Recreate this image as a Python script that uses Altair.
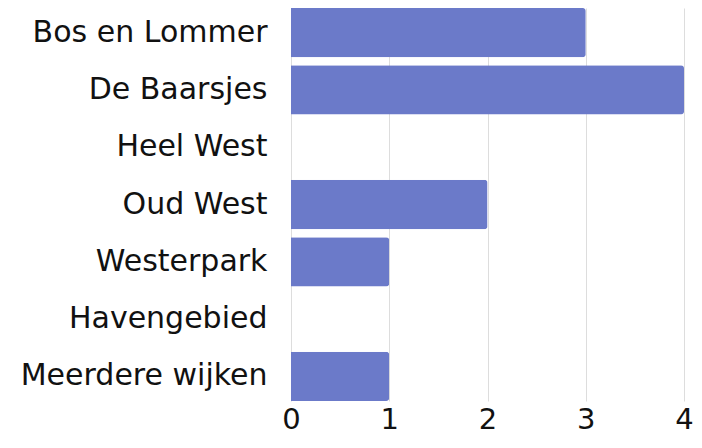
import altair as alt
import pandas as pd

categories = ["Bos en Lommer", "De Baarsjes", "Heel West", "Oud West", "Westerpark", "Havengebied", "Meerdere wijken"]
values = [3, 4, 0, 2, 1, 0, 1]

df = pd.DataFrame({"wijk": categories, "aantal": values})

FONT = "DejaVu Sans"

chart = alt.Chart(df).mark_bar(color="#6B7AC9", cornerRadiusTopRight=3, cornerRadiusBottomRight=3).encode(
    x=alt.X("aantal:Q", scale=alt.Scale(domain=[0, 4], nice=False),
            axis=alt.Axis(values=[0, 1, 2, 3, 4], format="d", title=None, domain=False, ticks=False,
                          labelFlush=False, labelOverlap=False,
                          labelFontSize=29, labelPadding=4, labelColor="#111", gridColor="#dddddd",
                          labelFont=FONT)),
    y=alt.Y("wijk:N", sort=categories, scale=alt.Scale(paddingInner=0.14, paddingOuter=0),
            axis=alt.Axis(title=None, domain=False, ticks=False, labelFontSize=30, labelPadding=24,
                          labelColor="#111", labelFont=FONT, labelLimit=400)),
).properties(
    width=393, height=393,
    autosize=alt.AutoSizeParams(type="none"),
    padding={"left": 283, "top": 0, "right": 10, "bottom": 38},
).configure_view(stroke=None)

chart.save("out.html", embed_options={"renderer": "svg", "actions": False})
